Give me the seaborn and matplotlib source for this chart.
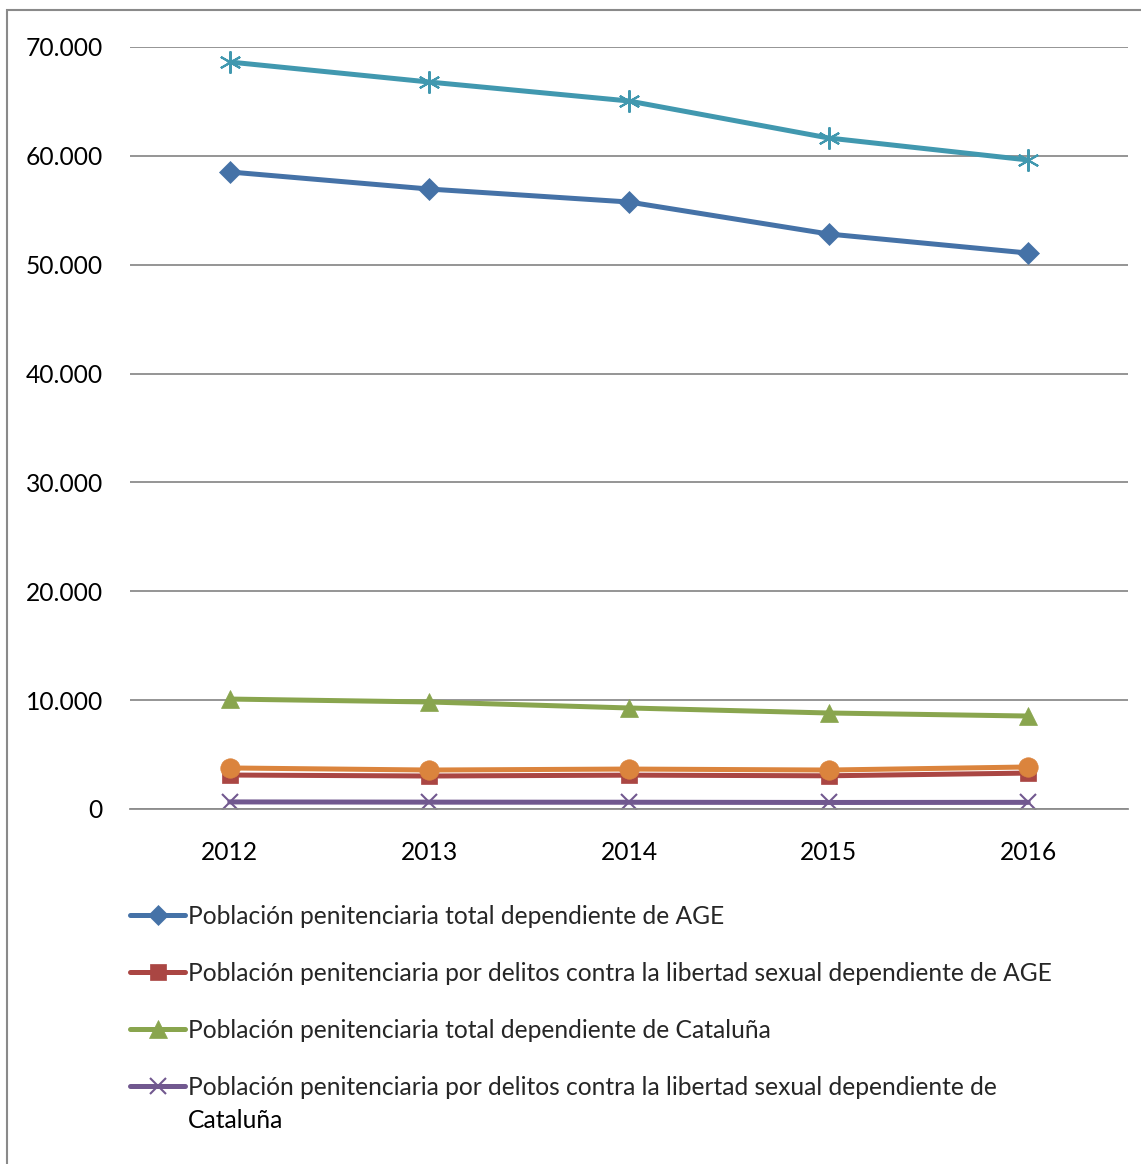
import matplotlib
matplotlib.use("Agg")
import matplotlib.pyplot as plt
import seaborn as sns
import pandas as pd
from matplotlib.lines import Line2D
from matplotlib.patches import Rectangle
from matplotlib.ticker import FuncFormatter

years = ["2012", "2013", "2014", "2015", "2016"]
age_total = [58520, 56950, 55760, 52820, 51070]
age_sexual = [3120, 3030, 3110, 3050, 3300]
cat_total = [10100, 9830, 9280, 8820, 8540]
cat_sexual = [650, 630, 620, 600, 610]
total_total = [68620, 66780, 65040, 61640, 59620]
total_sexual = [3770, 3580, 3670, 3580, 3860]

labels = [
    "Población penitenciaria total dependiente de AGE",
    "Población penitenciaria por delitos contra la libertad sexual dependiente de AGE",
    "Población penitenciaria total dependiente de Cataluña",
    "Población penitenciaria por delitos contra la libertad sexual dependiente de",
    "Población penitenciaria total",
    "Población penitenciaria por delitos contra la libertad sexual",
]
label_wrap = "Cataluña"
series_values = [age_total, age_sexual, cat_total, cat_sexual, total_total, total_sexual]
colors = ["#4572A7", "#AA4643", "#89A54E", "#71588F", "#4198AF", "#DB843D"]
markers = ["D", "s", "^", "x", (6, 2, 0), "o"]
msizes = [11, 12, 13, 12, 16, 14]

sns.set_theme(style="white")
plt.rcParams["font.family"] = ["Lato", "DejaVu Sans"]
FS = 17.7

fig = plt.figure(figsize=(11.41, 11.64), dpi=100)
ax = fig.add_axes([130 / 1141, 1 - 809 / 1164, 998 / 1141, 762 / 1164])

handles = []
for vals, lab, c, m, ms in zip(series_values, labels, colors, markers, msizes):
    df = pd.DataFrame({"x": range(len(years)), "y": vals})
    mew = 1.5 if m in ("x", (6, 2, 0)) else 0.5
    sns.lineplot(data=df, x="x", y="y", ax=ax, color=c, linewidth=3.6,
                 marker=m, markersize=ms, markeredgecolor=c,
                 markeredgewidth=mew, legend=False)
    handles.append(Line2D([], [], color=c, lw=3.6, marker=m, markersize=ms * 0.95,
                          markeredgecolor=c, markeredgewidth=mew,
                          solid_capstyle="round"))

ax.set_xlim(-0.5, 4.5)
ax.set_ylim(0, 70000)
ax.set_yticks(range(0, 70001, 10000))
ax.yaxis.set_major_formatter(FuncFormatter(lambda v, p: f"{int(v):,}".replace(",", ".")))
ax.set_xticks(range(len(years)))
ax.set_xticklabels(years)
ax.set_xlabel("")
ax.set_ylabel("")
ax.grid(axis="y", color="#8c8c8c", linewidth=1.3)
ax.set_axisbelow(True)
for s in ["top", "right", "left"]:
    ax.spines[s].set_visible(False)
ax.spines["bottom"].set_color("#8c8c8c")
ax.spines["bottom"].set_linewidth(1.3)
ax.tick_params(axis="y", length=0, pad=19.5, labelsize=FS, labelcolor="black")
ax.tick_params(axis="x", length=0, pad=23, labelsize=FS, labelcolor="black")

leg = fig.legend(handles=handles[:4], labels=labels[:4], loc="upper left",
                 bbox_to_anchor=(130 / 1141, 1 - 905 / 1164), frameon=False,
                 fontsize=FS, handlelength=2.25, handletextpad=0.12,
                 labelspacing=1.38, borderpad=0, borderaxespad=0)

fig.canvas.draw()
t4 = leg.get_texts()[3]
bb = t4.get_window_extent()
fig.text(bb.x0 / fig.bbox.width, (bb.y0 - 33) / fig.bbox.height, label_wrap,
         fontsize=FS, ha="left", va="bottom", color="black")

fig.patches.append(Rectangle((7 / 1141, -0.1), 1.2, 1 - 10 / 1164 + 0.1,
                             transform=fig.transFigure, fill=False,
                             edgecolor="#8a8a8a", linewidth=1.5))

fig.savefig("out.png", dpi=100)
